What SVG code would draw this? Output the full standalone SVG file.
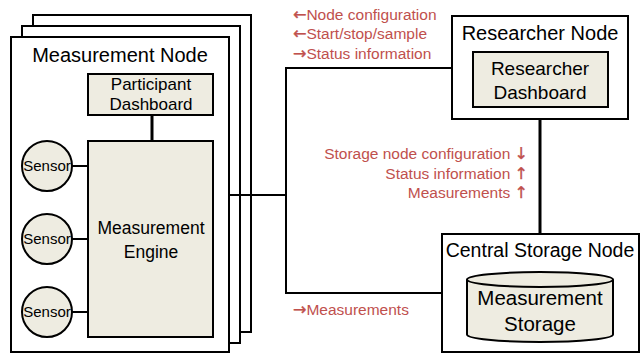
<svg xmlns="http://www.w3.org/2000/svg" width="641" height="354" viewBox="0 0 641 354">
  <style>
    .frame { fill: #ffffff; stroke: #000000; stroke-width: 2; }
    .box { fill: #EEECE1; stroke: #000000; stroke-width: 2; }
    .wire { fill: none; stroke: #000000; stroke-width: 2; }
    .thick { fill: none; stroke: #000000; stroke-width: 3; }
    text { font-family: "Liberation Sans", Arial, sans-serif; fill: #000000; }
    .title { font-size: 20px; text-anchor: middle; }
    .title-s { font-size: 19.5px; text-anchor: middle; }
    .label { font-size: 17px; text-anchor: middle; }
    .big { font-size: 19px; text-anchor: middle; }
    .engine { font-size: 17.5px; text-anchor: middle; }
    .store { font-size: 20.5px; text-anchor: middle; }
    .sensor { font-size: 15px; text-anchor: middle; }
    .flow { font-size: 15.5px; fill: #C0504D; }
    .flow-r { font-size: 15.5px; fill: #C0504D; text-anchor: end; }
    .arrow { font-family: "DejaVu Sans", sans-serif; font-size: 16px; stroke: #C0504D; stroke-width: 0.4; }
  </style>

  <!-- connectors between nodes -->
  <g id="connectors">
    <polyline class="wire" points="229,195 286,195 286,68 452,68"/>
    <polyline class="wire" points="286,195 286,293 442,293"/>
    <line class="thick" x1="540" y1="119" x2="540" y2="234"/>
  </g>

  <!-- stacked measurement nodes -->
  <g id="measurement-node">
    <rect class="frame" x="33" y="15" width="218" height="317"/>
    <rect class="frame" x="22" y="26" width="218" height="317"/>
    <rect class="frame" x="11" y="37" width="218" height="315"/>
    <text class="title" x="120" y="62">Measurement Node</text>
    <line class="wire" x1="229" y1="195" x2="251" y2="195"/>

    <g id="participant-dashboard">
      <rect class="box" x="88" y="74" width="125" height="41"/>
      <text class="label" x="151" y="90">Participant</text>
      <text class="label" x="151" y="110">Dashboard</text>
    </g>
    <line class="thick" x1="152" y1="115" x2="152" y2="141"/>

    <g id="measurement-engine">
      <rect class="box" x="88" y="141" width="125" height="196"/>
      <text class="engine" x="151" y="234">Measurement</text>
      <text class="engine" x="151" y="258">Engine</text>
    </g>

    <g id="sensors">
      <line class="wire" x1="72" y1="166" x2="88" y2="166"/>
      <line class="wire" x1="72" y1="239" x2="88" y2="239"/>
      <line class="wire" x1="72" y1="312" x2="88" y2="312"/>
      <g id="sensor-1">
        <circle class="box" cx="47" cy="166" r="25"/>
        <text class="sensor" x="47" y="171">Sensor</text>
      </g>
      <g id="sensor-2">
        <circle class="box" cx="47" cy="239" r="25"/>
        <text class="sensor" x="47" y="244">Sensor</text>
      </g>
      <g id="sensor-3">
        <circle class="box" cx="47" cy="312" r="25"/>
        <text class="sensor" x="47" y="317">Sensor</text>
      </g>
    </g>
  </g>

  <!-- researcher node -->
  <g id="researcher-node">
    <rect class="frame" x="452" y="16" width="176" height="103"/>
    <text class="title" x="540" y="40">Researcher Node</text>
    <rect class="box" x="473" y="52" width="135" height="55"/>
    <text class="big" x="540" y="75">Researcher</text>
    <text class="big" x="540" y="99">Dashboard</text>
  </g>

  <!-- central storage node -->
  <g id="central-storage-node">
    <rect class="frame" x="442" y="234" width="197" height="118"/>
    <text class="title-s" x="540" y="257">Central Storage Node</text>
    <path class="box" d="M467,279.5 L467,334.5 A73,7.5 0 0 0 613,334.5 L613,279.5"/>
    <ellipse class="box" cx="540" cy="279.5" rx="73" ry="7.5"/>
    <text class="store" x="540" y="305">Measurement</text>
    <text class="store" x="540" y="331">Storage</text>
  </g>

  <!-- message flow labels -->
  <g id="flow-labels">
    <text class="flow" x="293" y="20"><tspan class="arrow">←</tspan>Node configuration</text>
    <text class="flow" x="293" y="39"><tspan class="arrow">←</tspan>Start/stop/sample</text>
    <text class="flow" x="293" y="59"><tspan class="arrow">→</tspan>Status information</text>
    <text class="flow-r" x="528" y="159">Storage node configuration <tspan class="arrow">↓</tspan></text>
    <text class="flow-r" x="528" y="179">Status information <tspan class="arrow">↑</tspan></text>
    <text class="flow-r" x="528" y="198">Measurements <tspan class="arrow">↑</tspan></text>
    <text class="flow" x="293" y="315"><tspan class="arrow">→</tspan>Measurements</text>
  </g>
</svg>
